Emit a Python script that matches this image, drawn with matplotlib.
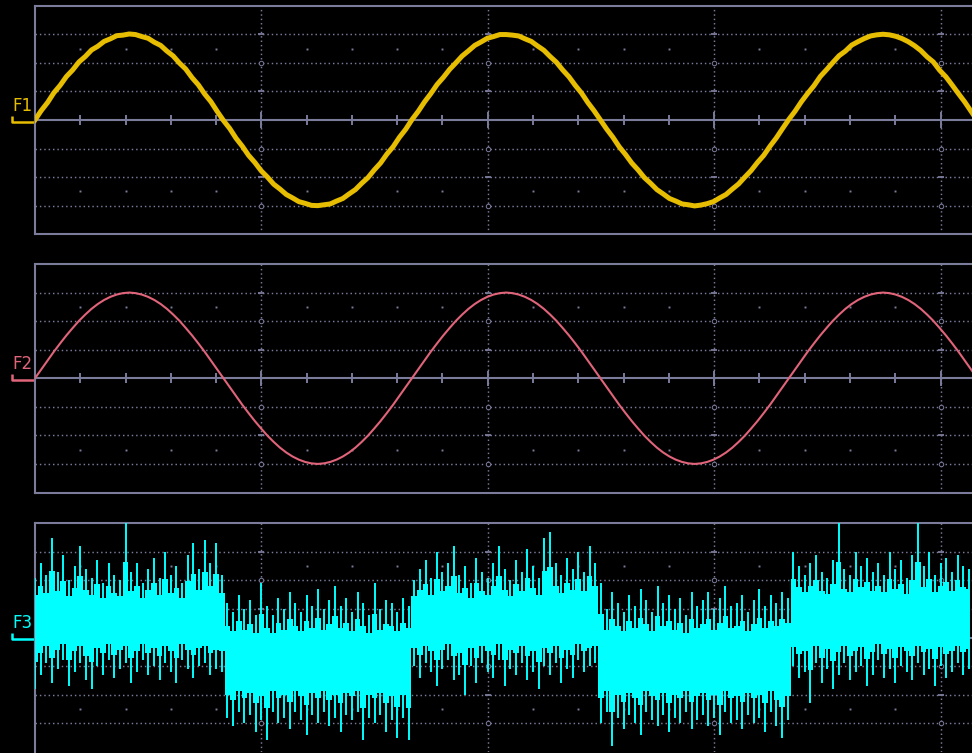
import numpy as np
import matplotlib
matplotlib.use('Agg')
import matplotlib.pyplot as plt

# visible part of the screen, in divisions (the right side is cut off)
visible_divs = 4.139
f1_step = 0.02775   # sample spacing of F1/F2 in divisions
f3_step = 0.025     # sample spacing of F3 in divisions

f1_values = [
	0.00, 0.33, 0.61, 0.95, 1.21, 1.52, 1.75, 2.03, 2.22, 2.45, 2.58, 2.75, 2.84, 2.95, 2.97, 3.01, 2.99, 2.92, 2.86, 2.72, 2.61, 2.41, 2.24, 1.99, 1.78, 1.48, 1.23, 0.91, 0.64, 0.30,
	-0.02, -0.30, -0.64, -0.92, -1.24, -1.49, -1.78, -2.00, -2.25, -2.42, -2.61, -2.73, -2.86, -2.92, -2.99, -3.00, -2.97, -2.94, -2.84, -2.75, -2.59, -2.44, -2.22, -2.02, -1.75, -1.51, -1.20, -0.94, -0.61, -0.33,
	0.01, 0.30, 0.63, 0.92, 1.24, 1.49, 1.77, 2.00, 2.24, 2.42, 2.61, 2.73, 2.86, 2.92, 2.99, 2.99, 2.97, 2.94, 2.84, 2.75, 2.59, 2.44, 2.22, 2.02, 1.75, 1.51, 1.21, 0.94, 0.61, 0.32,
	0.00, -0.32, -0.61, -0.94, -1.21, -1.51, -1.75, -2.02, -2.22, -2.44, -2.59, -2.75, -2.84, -2.94, -2.97, -3.01, -2.98, -2.93, -2.86, -2.73, -2.61, -2.42, -2.24, -2.00, -1.77, -1.49, -1.24, -0.92, -0.63, -0.30,
	0.02, 0.31, 0.64, 0.93, 1.20, 1.52, 1.76, 2.01, 2.25, 2.41, 2.62, 2.74, 2.85, 2.94, 2.98, 3.00, 2.98, 2.93, 2.85, 2.74, 2.60, 2.43, 2.21, 2.03, 1.74, 1.51, 1.22, 0.92, 0.63, 0.30, -0.01]

f2_values = [
	0.00, 0.31, 0.62, 0.93, 1.22, 1.50, 1.76, 2.01, 2.23, 2.43, 2.60, 2.74, 2.85, 2.93, 2.98, 3.00, 2.98, 2.93, 2.85, 2.74, 2.60, 2.43, 2.23, 2.01, 1.76, 1.50, 1.22, 0.93, 0.62, 0.31,
	0.00, -0.31, -0.62, -0.93, -1.22, -1.50, -1.76, -2.01, -2.23, -2.43, -2.60, -2.74, -2.85, -2.93, -2.98, -3.00, -2.98, -2.93, -2.85, -2.74, -2.60, -2.43, -2.23, -2.01, -1.76, -1.50, -1.22, -0.93, -0.62, -0.31,
	0.00, 0.31, 0.62, 0.93, 1.22, 1.50, 1.76, 2.01, 2.23, 2.43, 2.60, 2.74, 2.85, 2.93, 2.98, 3.00, 2.98, 2.93, 2.85, 2.74, 2.60, 2.43, 2.23, 2.01, 1.76, 1.50, 1.22, 0.93, 0.62, 0.31,
	0.00, -0.31, -0.62, -0.93, -1.22, -1.50, -1.76, -2.01, -2.23, -2.43, -2.60, -2.74, -2.85, -2.93, -2.98, -3.00, -2.98, -2.93, -2.85, -2.74, -2.60, -2.43, -2.23, -2.01, -1.76, -1.50, -1.22, -0.93, -0.62, -0.31,
	0.00, 0.31, 0.62, 0.93, 1.22, 1.50, 1.76, 2.01, 2.23, 2.43, 2.60, 2.74, 2.85, 2.93, 2.98, 3.00, 2.98, 2.93, 2.85, 2.74, 2.60, 2.43, 2.23, 2.01, 1.76, 1.50, 1.22, 0.93, 0.62, 0.31, 0.00]

# F3: top and bottom of each noise spike
f3_upper = [
	2.1, 2.6, 2.2, 3.5, 2.3, 2.9, 2.0, 2.5, 3.2, 2.4, 2.1, 2.7, 1.9, 2.6, 2.2, 2.0, 4.0, 2.3, 2.6, 1.9, 2.4, 2.8, 2.1, 3.0, 2.2, 2.5, 1.9, 2.9, 3.3, 2.4, 3.4, 2.6, 3.3, 2.2,
	1.2, 0.9, 1.5, 1.0, 1.3, 0.8, 1.9, 1.1, 0.8, 1.4, 1.0, 1.6, 1.2, 0.9, 1.5, 1.1, 1.7, 1.0, 1.3, 1.8, 1.1, 1.4, 0.9, 1.6, 1.2, 0.8, 1.9, 1.0, 1.3, 1.2, 0.9, 1.4, 1.1,
	2.0, 2.4, 2.7, 2.1, 3.0, 2.3, 2.6, 3.2, 2.2, 2.5, 1.9, 2.8, 2.3, 2.1, 2.6, 3.2, 2.4, 2.0, 2.7, 2.3, 3.1, 2.5, 2.1, 3.5, 3.7, 2.6, 2.2, 2.8, 2.4, 3.0, 2.3, 3.2, 2.6,
	1.9, 1.0, 1.6, 1.2, 0.9, 1.5, 1.1, 1.7, 1.3, 0.9, 1.8, 1.2, 1.5, 1.0, 1.4, 0.8, 1.6, 1.1, 1.3, 1.6, 1.0, 1.4, 1.8, 1.1, 1.2, 1.5, 0.9, 1.3, 1.7, 1.1, 1.5, 1.2, 1.6, 1.4,
	3.0, 2.5, 2.2, 2.6, 2.9, 2.3, 2.1, 2.7, 4.0, 2.4, 2.2, 3.0, 2.5, 2.8, 2.3, 2.6, 2.2, 3.0, 2.4, 2.7, 2.1, 2.9, 4.0, 2.5, 3.0, 2.2, 2.6, 2.8, 2.3, 2.9, 2.5, 2.4]
f3_lower = [
	-1.8, -1.3, -0.9, -1.6, -1.1, -0.8, -1.7, -1.2, -0.9, -1.5, -1.8, -1.0, -1.3, -0.8, -1.4, -1.1, -0.9, -1.6, -1.2, -0.8, -1.3, -1.0, -1.5, -0.9, -1.2, -1.6, -0.8, -1.1, -1.4, -1.0, -0.9, -1.3, -1.1, -1.2,
	-2.8, -3.1, -2.6, -3.0, -2.7, -3.3, -2.9, -3.6, -2.6, -3.0, -2.8, -3.2, -2.6, -2.9, -3.4, -2.7, -3.0, -2.6, -3.1, -2.8, -3.3, -2.7, -2.9, -2.6, -3.6, -2.8, -3.0, -2.7, -3.3, -2.9, -3.5, -2.8, -3.6,
	-1.0, -1.4, -0.9, -1.2, -1.7, -1.1, -0.8, -1.5, -1.3, -2.0, -1.0, -1.6, -0.9, -1.2, -1.4, -0.8, -1.7, -1.1, -1.3, -0.9, -1.5, -1.2, -1.8, -1.0, -1.3, -0.9, -1.6, -1.1, -1.4, -0.8, -1.2, -1.0, -0.9,
	-3.0, -2.6, -3.8, -2.8, -3.2, -2.7, -3.0, -3.4, -2.6, -2.9, -3.1, -2.7, -3.3, -2.8, -3.0, -2.6, -3.2, -2.9, -2.7, -3.1, -2.8, -3.4, -2.6, -3.0, -2.9, -3.2, -2.7, -3.0, -2.8, -3.3, -2.6, -3.1, -3.5, -2.9,
	-1.0, -1.4, -1.2, -2.3, -0.9, -1.6, -1.1, -1.8, -1.3, -0.9, -1.5, -1.2, -1.0, -1.7, -1.3, -0.8, -1.4, -1.1, -1.6, -1.0, -1.2, -1.5, -0.9, -1.3, -1.1, -1.7, -1.0, -1.4, -1.2, -0.9, -1.3, -1.1]
# square wave: edges and centre level of each half period
f3_edges = [0.0, 0.8325, 1.665, 2.4975, 3.33, visible_divs]
f3_level = [0.6, -0.8, 0.6, -0.8, 0.65]

grid_color = '#7b7b9c'
f1_color = '#e6bd00'
f2_color = '#e0647a'
f3_color = '#00ffff'

def draw_screen(ax, label, color):
	ax.set_facecolor('black')
	ax.set_xlim(0, visible_divs)
	ax.set_ylim(-4, 4)
	ax.set_xticks([])
	ax.set_yticks([])
	for side in ['top', 'left', 'bottom']:
		ax.spines[side].set_color(grid_color)
		ax.spines[side].set_linewidth(1.5)
	ax.spines['right'].set_visible(False)

	major = np.arange(1, 5)
	minor = np.array([m * 0.2 for m in range(1, 21) if m % 5 != 0])
	for y in [-3, -2, -1, 1, 2, 3]:
		ax.axhline(y, color=grid_color, lw=1.05, ls=(0, (1, 2)), zorder=1)
	for x in major:
		ax.axvline(x, color=grid_color, lw=1.05, ls=(0, (1, 2)), zorder=1)
	ax.axhline(0, color=grid_color, lw=1.5, zorder=1)
	ax.vlines(minor, -0.18, 0.18, color=grid_color, lw=1.4, zorder=1)
	ax.vlines(major, -0.27, 0.27, color=grid_color, lw=1.4, zorder=1)
	for y in [2.5, -2.5]:
		ax.plot(minor, [y] * len(minor), 's', color=grid_color, ms=1.4, mew=0, zorder=1)
	for y in [2, -1, -3]:
		ax.plot(major, [y] * len(major), 'o', mfc='black', mec=grid_color, ms=3.2, mew=0.7, zorder=1)
	for y in [3, 1, -2]:
		ax.plot(major, [y] * len(major), '_', color=grid_color, ms=5, mew=1.3, zorder=1)

	ax.text(-0.1016, 0.32, label, color=color, fontsize=12, va='baseline', ha='left', clip_on=False)
	ax.plot([-0.1, -0.1, 0], [0.15, -0.06, -0.06], color=color, lw=1.8, clip_on=False, solid_capstyle='butt')

fig = plt.figure(figsize=(9.72, 7.53), dpi=100, facecolor='black')
left = 35 / 972
width = 1 - left
ax1 = fig.add_axes([left, 1 - 234.2 / 753, width, 228.5 / 753])
ax2 = fig.add_axes([left, 1 - 492.5 / 753, width, 228.5 / 753])
ax3 = fig.add_axes([left, 1 - 751.8 / 753, width, 228.5 / 753])

draw_screen(ax1, 'F1', f1_color)
draw_screen(ax2, 'F2', f2_color)
draw_screen(ax3, 'F3', f3_color)
ax3.spines['bottom'].set_visible(False)

t1 = np.arange(len(f1_values)) * f1_step
ax1.plot(t1, f1_values, color=f1_color, lw=3.6, zorder=3, solid_joinstyle='round')
t2 = np.arange(len(f2_values)) * f1_step
ax2.plot(t2, f2_values, color=f2_color, lw=1.5, zorder=3)

# F3: stepped solid envelope, thin spikes reaching the extremes
t3 = np.arange(len(f3_upper)) * f3_step
seg = np.searchsorted(f3_edges, t3, side='right') - 1
lev = np.array(f3_level)[seg]
inner_top = lev + 0.6 * (np.array(f3_upper) - lev)
inner_bottom = lev + 0.6 * (np.array(f3_lower) - lev)
ax3.fill_between(t3, inner_bottom, inner_top, step='mid', color=f3_color, lw=0, zorder=3)
ax3.vlines(t3, f3_lower, f3_upper, color=f3_color, lw=1.4, zorder=3)

fig.savefig('out.png', dpi=100, facecolor='black')
plt.close()
